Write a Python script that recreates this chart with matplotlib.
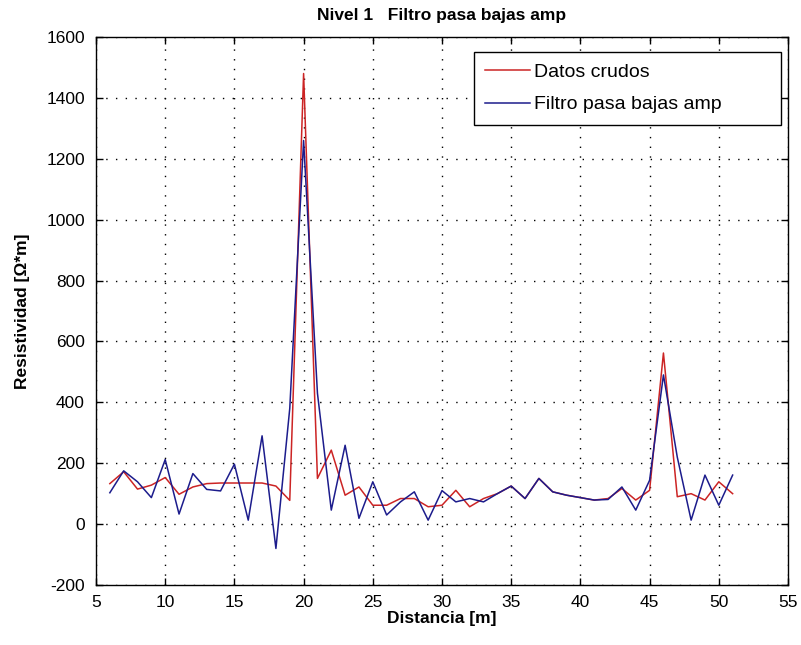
import matplotlib
matplotlib.use("Agg")
import matplotlib.pyplot as plt
from matplotlib import font_manager

distancia = list(range(6, 52))
datos_crudos = [133, 172, 115, 128, 153, 98, 122, 133, 135, 135, 135, 135, 125, 78,
                1480, 150, 243, 95, 122, 62, 62, 84, 84, 57, 62, 111, 57, 84, 100, 125,
                84, 150, 106, 95, 87, 79, 84, 117, 79, 111, 562, 90, 100, 79, 139, 100]
filtro = [103, 175, 139, 87, 212, 33, 166, 114, 109, 197, 13, 290, -80, 380,
          1260, 430, 46, 259, 19, 139, 30, 73, 106, 13, 110, 73, 84, 73, 100, 125,
          84, 150, 106, 95, 87, 79, 81, 122, 46, 144, 490, 220, 13, 161, 62, 161]
xticks = list(range(5, 56, 5))
yticks = list(range(-200, 1601, 200))

names = {f.name for f in font_manager.fontManager.ttflist}
fam = ['Liberation Sans Narrow', 'DejaVu Sans'] if 'Liberation Sans Narrow' in names else ['Liberation Sans', 'DejaVu Sans']
plt.rcParams['font.family'] = fam
plt.rcParams['axes.unicode_minus'] = False

fig = plt.figure(figsize=(8.01, 6.45), dpi=100)
ax = fig.add_axes([96/801, 1-585/645, (788-96)/801, (585-37)/645])

ax.plot(distancia, datos_crudos, color='#cc2424', lw=1.1, label='Datos crudos')
ax.plot(distancia, filtro, color='#1c1c8c', lw=1.1, label='Filtro pasa bajas amp')

ax.set_xlim(5, 55)
ax.set_ylim(-200, 1600)
ax.set_xticks(xticks)
ax.set_yticks(yticks)
ax.grid(True, color='black', linestyle=(0, (1, 6)), linewidth=1.0)
ax.tick_params(direction='in', top=True, right=True, labelsize=12.5, length=5, width=1)
ax.tick_params(axis='x', pad=7)
ax.tick_params(axis='y', pad=8)
for s in ax.spines.values():
    s.set_linewidth(1.0)

ax.set_title('Nivel 1   Filtro pasa bajas amp', fontsize=12.5, fontweight='bold', pad=12)
ax.set_xlabel('Distancia [m]', fontsize=12.5, fontweight='bold', labelpad=1)
ax.set_ylabel('Resistividad [Ω*m]', fontsize=12.5, fontweight='bold', labelpad=12)

leg = ax.legend(loc='upper left', bbox_to_anchor=(0.546, 0.841, 0.444, 0.1316),
                mode='expand', fontsize=14, frameon=True, fancybox=False,
                edgecolor='black', framealpha=1, handlelength=2.3, handletextpad=0.2,
                borderpad=0.6, labelspacing=0.75, borderaxespad=0.0)
leg.get_frame().set_linewidth(1.0)

fig.savefig('out.png', dpi=100)
